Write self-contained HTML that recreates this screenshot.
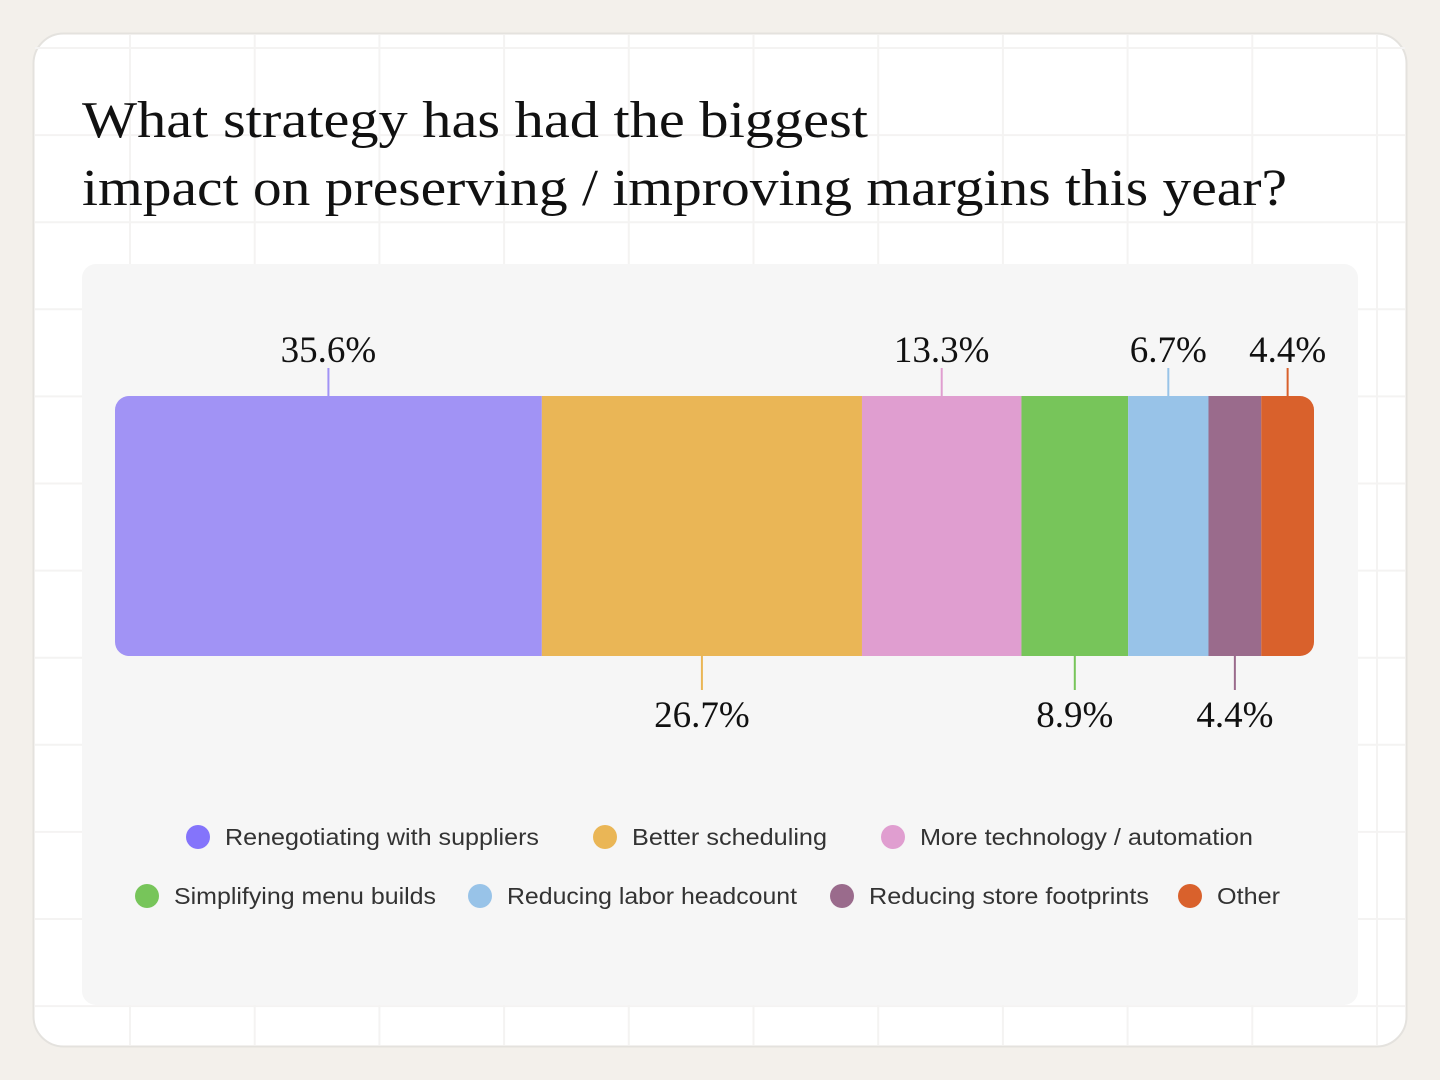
<!DOCTYPE html>
<html><head><meta charset="utf-8"><style>
html,body{margin:0;padding:0;background:#f3f0eb;}
svg{display:block;}
</style></head><body>
<svg id="chart" width="1440" height="1080" viewBox="0 0 1440 1080" xmlns="http://www.w3.org/2000/svg">
<rect x="0" y="0" width="1440" height="1080" fill="#f3f0eb"/>
<rect x="33.5" y="33.5" width="1373" height="1013" rx="30" fill="#ffffff" stroke="#e4e2de" stroke-width="2"/>
<g id="grid"></g>
<text x="82" y="137" font-family="'Liberation Serif', serif" font-size="52" fill="#111" textLength="786" lengthAdjust="spacingAndGlyphs">What strategy has had the biggest</text>
<text x="82" y="205" font-family="'Liberation Serif', serif" font-size="52" fill="#111" textLength="1205" lengthAdjust="spacingAndGlyphs">impact on preserving / improving margins this year?</text>
<rect x="82" y="264" width="1276" height="741" rx="14" fill="#f6f6f6"/>
<defs><clipPath id="barclip"><rect x="115" y="396" width="1199" height="260" rx="14"/></clipPath></defs>
<g id="bars" clip-path="url(#barclip)"></g>
<g id="labels"></g>
<g id="legend"></g>
</svg>
<script>
const categories = ["Renegotiating with suppliers","Better scheduling","More technology / automation","Simplifying menu builds","Reducing labor headcount","Reducing store footprints","Other"];
const values = [35.6, 26.7, 13.3, 8.9, 6.7, 4.4, 4.4];
const valueLabels = ["35.6%","26.7%","13.3%","8.9%","6.7%","4.4%","4.4%"];
const barColors = ["#a193f5","#eab656","#e09ed0","#77c55a","#98c3e8","#9a6b8c","#d9612c"];
const dotColors = ["#8474fb","#eab656","#e09ed0","#77c55a","#98c3e8","#9a6b8c","#d9612c"];
const NS="http://www.w3.org/2000/svg";
function mk(tag, attrs, parent){const e=document.createElementNS(NS,tag);for(const k in attrs)e.setAttribute(k,attrs[k]);parent.appendChild(e);return e;}
const grid=document.getElementById('grid');
for(let gx=130; gx<1400; gx+=124.7){const l=mk('line',{x1:gx,y1:35,x2:gx,y2:1045,stroke:'#f4f3f2','stroke-width':2},grid);

}
for(let gy=48; gy<1045; gy+=87.1){const l=mk('line',{x1:35,y1:gy,x2:1405,y2:gy,stroke:'#f4f3f2','stroke-width':2},grid);

}
const x0=115, x1=1314, yTop=396, yBot=656;
const total=values.reduce((a,b)=>a+b,0);
function xScale(v){return x0+(v/total)*(x1-x0);}
const bars=document.getElementById('bars'), labels=document.getElementById('labels');
let cum=0;
values.forEach((v,i)=>{
  const xs=xScale(cum), xe=xScale(cum+v); cum+=v;
  const r=mk('rect',{x:xs,y:yTop,width:xe-xs,height:yBot-yTop,fill:barColors[i]},bars);
  
  
  const cx=(xs+xe)/2, above=(i%2===0);
  const tk=mk('line',{x1:cx,x2:cx,y1:above?368:yBot,y2:above?yTop:690,stroke:barColors[i],'stroke-width':2},labels);
  
  
  const t=mk('text',{x:cx,y:above?362:727,'text-anchor':'middle','font-family':"'Liberation Serif', serif",'font-size':37,fill:'#111'},labels);
  t.textContent=valueLabels[i];
  
  
});
const legend=document.getElementById('legend');
const legendPos=[[198,837],[605,837],[893,837],[147,896],[480,896],[842,896],[1190,896]];
const legendTextW=[314,195,333,262,290,280,63];
categories.forEach((c,i)=>{
  const [lx,ly]=legendPos[i];
  const g=mk('g',{},legend);
  
  
  const d=mk('circle',{cx:lx,cy:ly,r:12,fill:dotColors[i]},g);
  
  
  const t=mk('text',{x:lx+27,y:ly+8,'font-family':"'Liberation Sans', sans-serif",'font-size':23.5,fill:'#333',textLength:legendTextW[i],lengthAdjust:'spacingAndGlyphs'},g);
  t.textContent=c;
  
  
});
</script>
</body></html>
